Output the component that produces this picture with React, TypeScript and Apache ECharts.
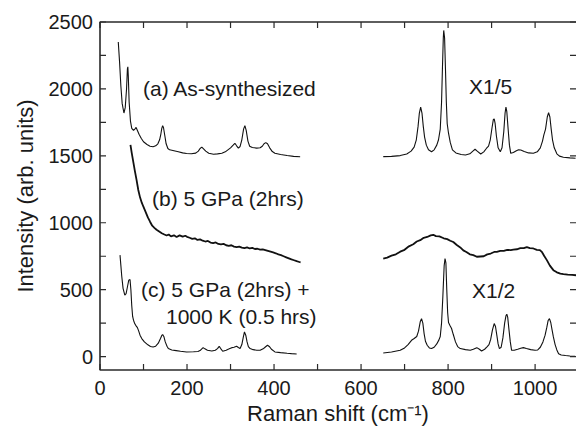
import React, { useEffect, useRef } from "react";
import * as echarts from "echarts";

// x: Raman shift (cm-1), y: intensity (arb. units)
const curveALeft: [number, number][] = [
  [42, 2350], [45, 2200], [48, 2020], [51, 1890], [55, 1820], [58, 1860], [61, 2000], [63, 2150], [64, 2165], [65, 2100],
  [67, 1900], [70, 1760], [73, 1705], [77, 1690], [80, 1700], [83, 1712], [86, 1690], [90, 1660], [95, 1630], [100, 1605],
  [108, 1585], [115, 1572], [122, 1568], [128, 1575], [133, 1590], [137, 1620], [140, 1665], [142, 1705], [144, 1726],
  [146, 1710], [149, 1650], [152, 1590], [156, 1555], [160, 1545], [165, 1542], [170, 1538], [180, 1530], [190, 1522],
  [199, 1518], [210, 1516], [220, 1520], [226, 1535], [230, 1555], [234, 1565], [238, 1552], [243, 1535], [250, 1520],
  [261, 1512], [270, 1515], [280, 1520], [288, 1530], [294, 1545], [300, 1560], [306, 1580], [310, 1594], [314, 1575],
  [318, 1558], [322, 1570], [326, 1620], [330, 1700], [333, 1726], [336, 1690], [340, 1610], [344, 1572], [350, 1562],
  [360, 1558], [368, 1560], [373, 1572], [377, 1590], [381, 1599], [385, 1590], [390, 1560], [396, 1532], [402, 1520],
  [415, 1510], [430, 1502], [445, 1496], [460, 1493],
];
const curveARight: [number, number][] = [
  [651, 1494], [670, 1496], [690, 1502], [705, 1514], [715, 1535], [722, 1565], [727, 1620], [731, 1720], [734, 1820],
  [737, 1864], [740, 1820], [743, 1720], [746, 1640], [750, 1580], [755, 1545], [762, 1531], [768, 1545], [774, 1580],
  [778, 1620], [782, 1700], [785, 1900], [787, 2150], [789, 2380], [790, 2437], [792, 2380], [794, 2150], [796, 1900],
  [798, 1740], [801, 1669], [805, 1600], [810, 1545], [818, 1522], [830, 1510], [840, 1506], [850, 1515], [857, 1535],
  [862, 1549], [867, 1535], [875, 1514], [882, 1530], [888, 1555], [893, 1572], [897, 1620], [901, 1710], [904, 1770],
  [906, 1776], [908, 1745], [911, 1650], [915, 1560], [920, 1531], [924, 1560], [928, 1680], [931, 1820], [933, 1864],
  [935, 1830], [938, 1700], [941, 1580], [944, 1519], [950, 1525], [957, 1538], [962, 1545], [967, 1544], [975, 1532],
  [985, 1522], [996, 1519], [1005, 1530], [1012, 1560], [1017, 1610], [1020, 1655], [1024, 1700], [1028, 1790],
  [1031, 1823], [1034, 1790], [1037, 1700], [1040, 1620], [1044, 1560], [1050, 1515], [1056, 1498], [1065, 1490],
  [1080, 1485], [1093, 1482],
];
const curveBLeft: [number, number][] = [
  [70, 1582], [73, 1520], [77, 1445], [80, 1390], [84, 1320], [88, 1245], [92, 1190], [96, 1150], [100, 1118], [105, 1080],
  [110, 1040], [115, 1008], [120, 978], [125, 962], [130, 948], [136, 935], [142, 922], [148, 912], [153, 905], [158, 912],
  [163, 898], [170, 906], [176, 894], [183, 906], [190, 896], [196, 903], [200, 895], [206, 888], [212, 880], [218, 884],
  [224, 872], [230, 876], [236, 866], [242, 860], [248, 864], [254, 852], [260, 848], [266, 853], [272, 842], [278, 838],
  [284, 842], [290, 832], [296, 828], [302, 832], [308, 822], [314, 818], [320, 822], [326, 814], [332, 810], [338, 816],
  [344, 808], [350, 812], [356, 804], [362, 806], [368, 800], [374, 802], [380, 796], [386, 790], [392, 784], [398, 778],
  [404, 772], [410, 764], [416, 758], [422, 750], [428, 742], [434, 734], [440, 726], [446, 720], [452, 713], [458, 707],
  [461, 704],
];
const curveBRight: [number, number][] = [
  [651, 733], [660, 740], [670, 754], [680, 764], [690, 784], [700, 798], [710, 824], [720, 840], [728, 860], [736, 870],
  [744, 888], [752, 894], [760, 906], [766, 910], [772, 900], [780, 898], [790, 884], [798, 878], [805, 866], [812, 856],
  [820, 834], [828, 816], [835, 794], [842, 782], [850, 764], [858, 758], [866, 746], [874, 748], [882, 750], [890, 764],
  [898, 770], [906, 782], [912, 782], [920, 790], [928, 790], [936, 798], [944, 796], [950, 800], [958, 802], [966, 810],
  [974, 810], [981, 818], [988, 810], [996, 808], [1004, 798], [1011, 796], [1016, 780], [1021, 752], [1027, 721],
  [1034, 680], [1042, 646], [1050, 630], [1058, 620], [1065, 616], [1075, 612], [1085, 610], [1094, 608],
];
const curveCLeft: [number, number][] = [
  [46, 758], [48, 680], [50, 600], [53, 510], [57, 459], [60, 470], [63, 520], [66, 570], [69, 576], [71, 500], [73, 380],
  [75, 300], [77, 272], [80, 245], [83, 230], [86, 217], [89, 190], [92, 160], [96, 135], [102, 110], [110, 88], [116, 76],
  [122, 72], [128, 78], [134, 100], [139, 135], [142, 158], [144, 165], [147, 148], [150, 110], [154, 78], [157, 60],
  [165, 50], [175, 45], [185, 40], [199, 35], [215, 36], [225, 38], [230, 45], [234, 58], [237, 67], [241, 58], [247, 47],
  [257, 42], [265, 48], [270, 60], [274, 77], [277, 62], [282, 40], [290, 48], [297, 58], [303, 67], [308, 70], [314, 77],
  [318, 68], [322, 60], [326, 90], [329, 140], [332, 184], [335, 160], [338, 110], [341, 75], [345, 60], [352, 52],
  [360, 48], [368, 47], [375, 58], [380, 72], [385, 85], [389, 76], [394, 55], [402, 35], [415, 30], [430, 25], [440, 22],
  [452, 20],
];
const curveCRight: [number, number][] = [
  [651, 27], [670, 35], [690, 47], [700, 65], [708, 90], [716, 122], [722, 135], [728, 150], [732, 190], [736, 260],
  [739, 284], [742, 250], [745, 170], [748, 115], [752, 85], [757, 65], [762, 60], [768, 70], [774, 95], [779, 125],
  [782, 150], [785, 250], [788, 450], [791, 680], [793, 733], [795, 700], [797, 500], [799, 330], [801, 255], [804, 235],
  [808, 210], [812, 165], [817, 110], [822, 75], [828, 60], [840, 52], [851, 47], [858, 55], [866, 67], [872, 55],
  [877, 42], [884, 55], [890, 75], [894, 90], [898, 130], [902, 200], [906, 247], [909, 225], [912, 160], [915, 95],
  [918, 60], [922, 70], [926, 140], [930, 250], [933, 305], [935, 317], [937, 295], [940, 200], [943, 110], [946, 47],
  [952, 48], [960, 55], [967, 63], [973, 67], [980, 60], [990, 52], [1000, 47], [1006, 50], [1012, 70], [1018, 110],
  [1023, 160], [1027, 220], [1030, 270], [1033, 284], [1036, 255], [1039, 200], [1042, 147], [1046, 90], [1050, 50],
  [1054, 22], [1060, 12], [1070, 8], [1080, 5], [1092, 2],
];

const X_MIN = 0;
const X_MAX = 1094;
const Y_MIN = -100;
const Y_MAX = 2500;
const xTicks = [0, 100, 200, 300, 400, 500, 600, 700, 800, 900, 1000];
const xLabels = [0, 200, 400, 600, 800, 1000];
const yTicks = [0, 250, 500, 750, 1000, 1250, 1500, 1750, 2000, 2250, 2500];
const yLabels = [0, 500, 1000, 1500, 2000, 2500];

const annotations = [
  { text: "(a) As-synthesized", x: 143, y: 88 },
  { text: "(b) 5 GPa (2hrs)", x: 152, y: 198 },
  { text: "(c) 5 GPa (2hrs) +", x: 141, y: 289 },
  { text: "1000 K (0.5 hrs)", x: 166, y: 316 },
  { text: "X1/5", x: 469, y: 86 },
  { text: "X1/2", x: 472, y: 290 },
];

const FONT = "'Liberation Sans', Arial, Helvetica, sans-serif";
const INK = "#1a1a1a";
const AXIS = "#2a2a2a";

// layout of the plot box (pixels)
const GRID = { left: 100, right: 0, top: 22, bottom: 59 };
const W = 576;
const H = 429;
const TICK_PX = 6;

export default function App() {
  const ref = useRef<HTMLDivElement>(null);
  useEffect(() => {
    if (!ref.current) return;
    const chart = echarts.init(ref.current, undefined, { renderer: "svg" });
    const plain = (v: number) => String(v);

    // tick length expressed in axis units so the scale places it
    const tx = (TICK_PX * (X_MAX - X_MIN)) / (W - GRID.left - GRID.right);
    const ty = (TICK_PX * (Y_MAX - Y_MIN)) / (H - GRID.top - GRID.bottom);
    const gap: any = ["-", "-"];
    const tickData: any[] = [];
    xTicks.forEach((v) => {
      tickData.push([v, Y_MIN], [v, Y_MIN + ty], gap);
      tickData.push([v, Y_MAX], [v, Y_MAX - ty], gap);
    });
    yTicks.forEach((v) => {
      tickData.push([X_MIN, v], [X_MIN + tx, v], gap);
      tickData.push([X_MAX, v], [X_MAX - tx, v], gap);
    });
    const frameData: [number, number][] = [
      [X_MAX, Y_MAX], [X_MIN, Y_MAX], [X_MIN, Y_MIN], [X_MAX, Y_MIN],
    ];

    const line = (data: any[], w: number, color = "#111", extra: any = {}) => ({
      type: "line",
      data,
      showSymbol: false,
      symbol: "none",
      connectNulls: false,
      lineStyle: { color, width: w },
      itemStyle: { color },
      ...extra,
    });

    chart.setOption({
      animation: false,
      backgroundColor: "#ffffff",
      grid: { ...GRID, outerBoundsMode: "none" },
      xAxis: {
        type: "value",
        min: X_MIN,
        max: X_MAX,
        axisLine: { show: false, onZero: false },
        axisTick: { show: false },
        splitLine: { show: false },
        axisLabel: { show: true, customValues: xLabels, formatter: plain, fontSize: 20, fontFamily: FONT, color: INK, margin: 8 },
        name: "Raman shift (cm\u207B\u00B9)",
        nameLocation: "middle",
        nameGap: 31,
        nameTextStyle: { fontSize: 22, fontFamily: FONT, color: INK },
      },
      yAxis: {
        type: "value",
        min: Y_MIN,
        max: Y_MAX,
        axisLine: { show: false, onZero: false },
        axisTick: { show: false },
        splitLine: { show: false },
        axisLabel: { show: true, customValues: yLabels, formatter: plain, fontSize: 20, fontFamily: FONT, color: INK, margin: 7 },
        name: "Intensity (arb. units)",
        nameLocation: "middle",
        nameGap: 64,
        nameTextStyle: { fontSize: 22, fontFamily: FONT, color: INK },
      },
      series: [
        line(curveALeft, 1.1),
        line(curveARight, 1.1),
        line(curveBLeft, 1.8),
        line(curveBRight, 1.8),
        line(curveCLeft, 1.1),
        line(curveCRight, 1.1),
        line(frameData, 1.6, AXIS, { clip: false, silent: true, z: 5 }),
        line(tickData, 1.2, AXIS, { clip: false, silent: true, z: 5 }),
      ],
      graphic: annotations.map((a) => ({
        type: "text",
        x: a.x,
        y: a.y,
        style: { text: a.text, fontSize: 21, fontFamily: FONT, fill: INK, verticalAlign: "middle", align: "left" },
      })),
    });
    return () => chart.dispose();
  }, []);
  return <div ref={ref} style={{ width: W, height: H, position: "absolute", left: 0, top: 0 }} />;
}
